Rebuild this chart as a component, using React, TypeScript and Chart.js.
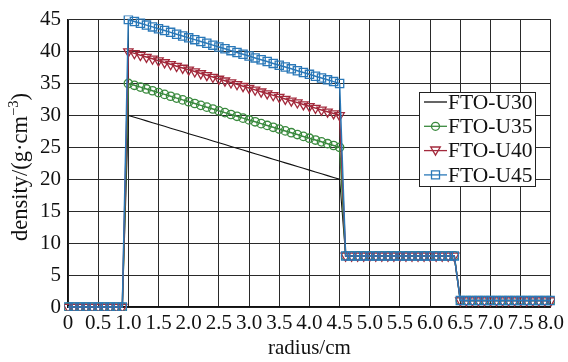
import React, { useEffect, useRef } from "react";
import { Chart, registerables } from "chart.js";

Chart.register(...registerables);

// radius positions (cm)
const radius = [
  0, 0.1, 0.2, 0.3, 0.4, 0.5, 0.6, 0.7, 0.8, 0.9,
  1.0, 1.1, 1.2, 1.3, 1.4, 1.5, 1.6, 1.7, 1.8, 1.9,
  2.0, 2.1, 2.2, 2.3, 2.4, 2.5, 2.6, 2.7, 2.8, 2.9,
  3.0, 3.1, 3.2, 3.3, 3.4, 3.5, 3.6, 3.7, 3.8, 3.9,
  4.0, 4.1, 4.2, 4.3, 4.4, 4.5,
  4.6, 4.7, 4.8, 4.9, 5.0, 5.1, 5.2, 5.3, 5.4, 5.5,
  5.6, 5.7, 5.8, 5.9, 6.0, 6.1, 6.2, 6.3, 6.4,
  6.5, 6.6, 6.7, 6.8, 6.9, 7.0, 7.1, 7.2, 7.3, 7.4,
  7.5, 7.6, 7.7, 7.8, 7.9, 8.0,
];

// shared regions
const innerRegion = [0, 0, 0, 0, 0, 0, 0, 0, 0, 0];
const middleRegion = [8, 8, 8, 8, 8, 8, 8, 8, 8, 8, 8, 8, 8, 8, 8, 8, 8, 8, 8];
const outerRegion = [1, 1, 1, 1, 1, 1, 1, 1, 1, 1, 1, 1, 1, 1, 1, 1];

// core regions per series (1.0 – 4.5 cm)
const coreU30 = [
  30.0, 29.71, 29.43, 29.14, 28.86, 28.57, 28.29, 28.0, 27.71, 27.43,
  27.14, 26.86, 26.57, 26.29, 26.0, 25.71, 25.43, 25.14, 24.86, 24.57,
  24.29, 24.0, 23.71, 23.43, 23.14, 22.86, 22.57, 22.29, 22.0, 21.71,
  21.43, 21.14, 20.86, 20.57, 20.29, 20.0,
];
const coreU35 = [
  35.0, 34.71, 34.43, 34.14, 33.86, 33.57, 33.29, 33.0, 32.71, 32.43,
  32.14, 31.86, 31.57, 31.29, 31.0, 30.71, 30.43, 30.14, 29.86, 29.57,
  29.29, 29.0, 28.71, 28.43, 28.14, 27.86, 27.57, 27.29, 27.0, 26.71,
  26.43, 26.14, 25.86, 25.57, 25.29, 25.0,
];
const coreU40 = [
  40.0, 39.71, 39.43, 39.14, 38.86, 38.57, 38.29, 38.0, 37.71, 37.43,
  37.14, 36.86, 36.57, 36.29, 36.0, 35.71, 35.43, 35.14, 34.86, 34.57,
  34.29, 34.0, 33.71, 33.43, 33.14, 32.86, 32.57, 32.29, 32.0, 31.71,
  31.43, 31.14, 30.86, 30.57, 30.29, 30.0,
];
const coreU45 = [
  45.0, 44.71, 44.43, 44.14, 43.86, 43.57, 43.29, 43.0, 42.71, 42.43,
  42.14, 41.86, 41.57, 41.29, 41.0, 40.71, 40.43, 40.14, 39.86, 39.57,
  39.29, 39.0, 38.71, 38.43, 38.14, 37.86, 37.57, 37.29, 37.0, 36.71,
  36.43, 36.14, 35.86, 35.57, 35.29, 35.0,
];

const seriesNames = ["FTO-U30", "FTO-U35", "FTO-U40", "FTO-U45"];
const seriesCores = [coreU30, coreU35, coreU40, coreU45];
const seriesColors = ["#111111", "#3a8a3e", "#a32a3c", "#2a78b8"];
const seriesMarkers = ["none", "circle", "triangleDown", "rect"];

const xTickStep = 0.5;
const yTickStep = 5;

const FONT = "'Liberation Serif', 'Times New Roman', serif";

function drawMarker(ctx: CanvasRenderingContext2D, kind: string, x: number, y: number, color: string) {
  ctx.save();
  ctx.strokeStyle = color;
  ctx.lineWidth = 1.3;
  ctx.beginPath();
  if (kind === "circle") {
    ctx.arc(x, y, 4, 0, Math.PI * 2);
  } else if (kind === "rect") {
    ctx.rect(x - 4, y - 4, 8, 8);
  } else if (kind === "triangleDown") {
    ctx.moveTo(x - 4.8, y - 3.6);
    ctx.lineTo(x + 4.8, y - 3.6);
    ctx.lineTo(x, y + 4.5);
    ctx.closePath();
  }
  if (kind !== "none") ctx.stroke();
  ctx.restore();
}

const textPlugin = {
  id: "customText",
  afterDraw(chart: any) {
    const ctx: CanvasRenderingContext2D = chart.ctx;
    const area = chart.chartArea;
    ctx.save();
    // x title
    ctx.fillStyle = "#111";
    ctx.font = `21px ${FONT}`;
    ctx.textAlign = "center";
    ctx.textBaseline = "middle";
    ctx.fillText("radius/cm", (area.left + area.right) / 2, 348);

    // y title with superscript
    ctx.save();
    ctx.translate(19, 167);
    ctx.rotate(-Math.PI / 2);
    const main1 = "density/(g·cm";
    const sup = "−3";
    const main2 = ")";
    ctx.font = `22.5px ${FONT}`;
    const w1 = ctx.measureText(main1).width;
    const w3 = ctx.measureText(main2).width;
    ctx.font = `14.5px ${FONT}`;
    const w2 = ctx.measureText(sup).width;
    let sx = -(w1 + w2 + w3) / 2;
    ctx.textAlign = "left";
    ctx.textBaseline = "alphabetic";
    ctx.font = `22.5px ${FONT}`;
    ctx.fillText(main1, sx, 8);
    sx += w1;
    ctx.font = `14.5px ${FONT}`;
    ctx.fillText(sup, sx, -1);
    sx += w2;
    ctx.font = `22.5px ${FONT}`;
    ctx.fillText(main2, sx, 8);
    ctx.restore();

    // legend
    const bx = 419, by = 92, bw = 116, bh = 94;
    ctx.fillStyle = "#ffffff";
    ctx.fillRect(bx, by, bw, bh);
    ctx.strokeStyle = "#222";
    ctx.lineWidth = 1;
    ctx.strokeRect(bx + 0.5, by + 0.5, bw, bh);
    for (let i = 0; i < seriesNames.length; i++) {
      const y = 102 + i * 24.3;
      ctx.strokeStyle = seriesColors[i];
      ctx.lineWidth = 1.3;
      ctx.beginPath();
      ctx.moveTo(424, y);
      ctx.lineTo(447, y);
      ctx.stroke();
      drawMarker(ctx, seriesMarkers[i], 435.5, y, seriesColors[i]);
      ctx.fillStyle = "#111";
      ctx.font = `21.5px ${FONT}`;
      ctx.textAlign = "left";
      ctx.textBaseline = "middle";
      ctx.fillText(seriesNames[i], 448, y + 1);
    }
    ctx.restore();
  },
};

export default function App() {
  const canvasRef = useRef<HTMLCanvasElement | null>(null);

  useEffect(() => {
    const canvas = canvasRef.current;
    if (!canvas) return;

    const datasets = seriesNames.map((name, i) => {
      const values = [...innerRegion, ...seriesCores[i], ...middleRegion, ...outerRegion];
      const marker = seriesMarkers[i];
      return {
        label: name,
        data: radius.map((r, k) => ({ x: r, y: values[k] })),
        borderColor: seriesColors[i],
        backgroundColor: "rgba(0,0,0,0)",
        borderWidth: i === 0 ? 1.1 : 1.5,
        pointRadius: marker === "none" ? 0 : marker === "rect" ? 5.8 : marker === "circle" ? 4.2 : 5.4,
        pointStyle: marker === "triangleDown" ? "triangle" : marker === "none" ? "circle" : marker,
        rotation: marker === "triangleDown" ? 180 : 0,
        pointBorderColor: seriesColors[i],
        pointBackgroundColor: "rgba(0,0,0,0)",
        pointBorderWidth: 1.3,
        tension: 0,
        order: seriesNames.length - i,
        clip: 4,
      };
    });

    const chart = new Chart(canvas, {
      type: "line",
      data: { datasets },
      options: {
        responsive: false,
        animation: false,
        devicePixelRatio: 1,
        layout: { padding: { top: 15, right: 13, left: 0, bottom: 0 } },
        plugins: {
          legend: { display: false },
          tooltip: { enabled: false },
        },
        scales: {
          x: {
            type: "linear",
            min: 0,
            max: 8,
            ticks: {
              stepSize: xTickStep,
              autoSkip: false,
              maxRotation: 0,
              padding: 4,
              color: "#111",
              font: { family: FONT, size: 21 },
              callback: (v: any) => (Number(v) === 0 ? "0" : Number(v).toFixed(1)),
            },
            grid: { color: "#2a2a2a", lineWidth: 1, drawTicks: false },
            border: { color: "#111", width: 1.5 },
            afterFit: (scale: any) => {
              scale.height = 55;
            },
          },
          y: {
            type: "linear",
            min: 0,
            max: 45,
            ticks: {
              stepSize: yTickStep,
              padding: 7,
              color: "#111",
              font: { family: FONT, size: 21 },
            },
            grid: { color: "#2a2a2a", lineWidth: 1, drawTicks: false },
            border: { color: "#111", width: 1.5 },
            afterFit: (scale: any) => {
              scale.width = 68;
            },
          },
        },
      },
      plugins: [textPlugin],
    } as any);

    return () => chart.destroy();
  }, []);

  return (
    <div style={{ position: "absolute", left: 0, top: 0, width: 568, height: 362, background: "#fff" }}>
      <canvas ref={canvasRef} width={568} height={362} style={{ width: 568, height: 362 }} />
    </div>
  );
}
